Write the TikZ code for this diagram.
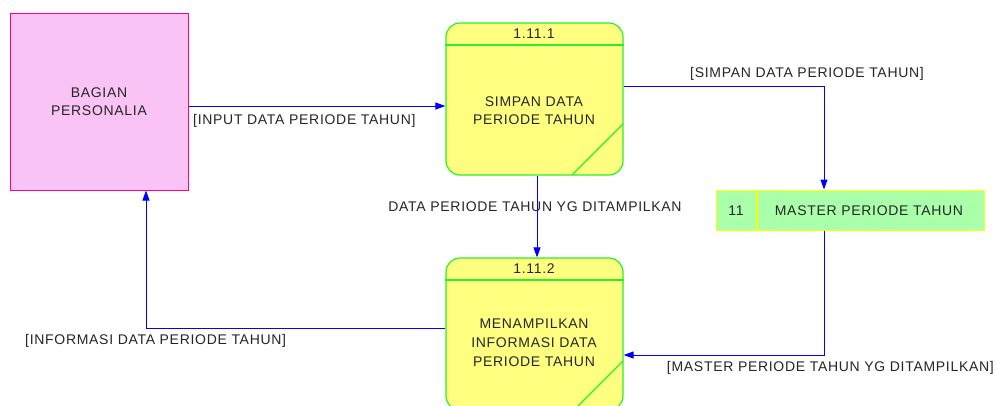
\documentclass[tikz,border=0pt]{standalone}
\usepackage{fontspec}
\setmainfont{Liberation Sans}[LetterSpace=5]
\usetikzlibrary{arrows.meta}
\definecolor{procfill}{RGB}{255,255,128}
\definecolor{procline}{RGB}{40,240,40}
\definecolor{entfill}{RGB}{250,195,245}
\definecolor{entline}{RGB}{255,0,128}
\definecolor{stfill}{RGB}{170,255,170}
\definecolor{stline}{RGB}{255,255,0}
\definecolor{flow}{RGB}{0,0,255}
\begin{document}
\begin{tikzpicture}[x=1pt,y=-1pt,
  every node/.style={font=\fontsize{14}{18}\selectfont, text=black!85},
  entity/.style={draw=entline, fill=entfill, line width=1pt, minimum width=178pt, minimum height=177pt, inner sep=0pt, align=center},
  proc/.style={draw=procline, fill=procfill, line width=1.2pt, rounded corners=14pt, minimum width=177pt, minimum height=152pt, inner sep=0pt},
  procsep/.style={draw=procline, line width=1.2pt},
  store/.style={draw=stline, fill=stfill, line width=1pt, minimum width=268pt, minimum height=40pt, inner sep=0pt},
  arr/.style={draw=flow, line width=1pt, -{Triangle[length=10pt,width=7pt]}},
  lbl/.style={inner sep=0pt}
]
\clip (0,0) rectangle (997,405);
\fill[white] (0,0) rectangle (997,405);
% entity
\node[entity] (ent) at (99,101.5) {BAGIAN\\PERSONALIA};
% process 1
\node[proc] (p1) at (534.5,99) {};
\draw[procsep] (p1.west |- 0,45) -- (p1.east |- 0,45);
\draw[procsep] (623,124) -- (572,175);
\node[lbl] (p1n) at (534,34) {1.11.1};
\node[lbl, align=center] (p1t) at (534,111) {SIMPAN DATA\\PERIODE TAHUN};
% process 2
\node[proc] (p2) at (534.5,334) {};
\draw[procsep] (p2.west |- 0,280) -- (p2.east |- 0,280);
\draw[procsep] (623,361) -- (574,410);
\node[lbl] (p2n) at (534,269) {1.11.2};
\node[lbl, align=center, font=\fontsize{14}{19}\selectfont] (p2t) at (534,343) {MENAMPILKAN\\INFORMASI DATA\\PERIODE TAHUN};
% store
\node[store] (st) at (850,210) {};
\draw[draw=stline, line width=1.3pt] (757,190) -- (757,230);
\node[lbl] (stn) at (736,211) {11};
\node[lbl] (stt) at (869,211) {MASTER PERIODE TAHUN};
% flows
\draw[arr] (ent.east |- 0,106) -- (p1.west |- 0,106);
\node[lbl, anchor=west] (l1) at (193,121) {[INPUT DATA PERIODE TAHUN]};
\draw[arr] (p1.east |- 0,86) -| (st.north -| 824,0);
\node[lbl, anchor=west] (l2) at (690,74) {[SIMPAN DATA PERIODE TAHUN]};
\draw[arr] (p1.south -| 537,0) -- (p2.north -| 537,0);
\node[lbl] (l3) at (535,207) {DATA PERIODE TAHUN YG DITAMPILKAN};
\draw[arr] (st.south -| 824,0) |- (p2.east |- 0,355);
\node[lbl, anchor=east] (l4) at (994,368) {[MASTER PERIODE TAHUN YG DITAMPILKAN]};
\draw[arr] (p2.west |- 0,328) -| (ent.south -| 146,0);
\node[lbl, anchor=west] (l5) at (25,341) {[INFORMASI DATA PERIODE TAHUN]};
\end{tikzpicture}
\end{document}
